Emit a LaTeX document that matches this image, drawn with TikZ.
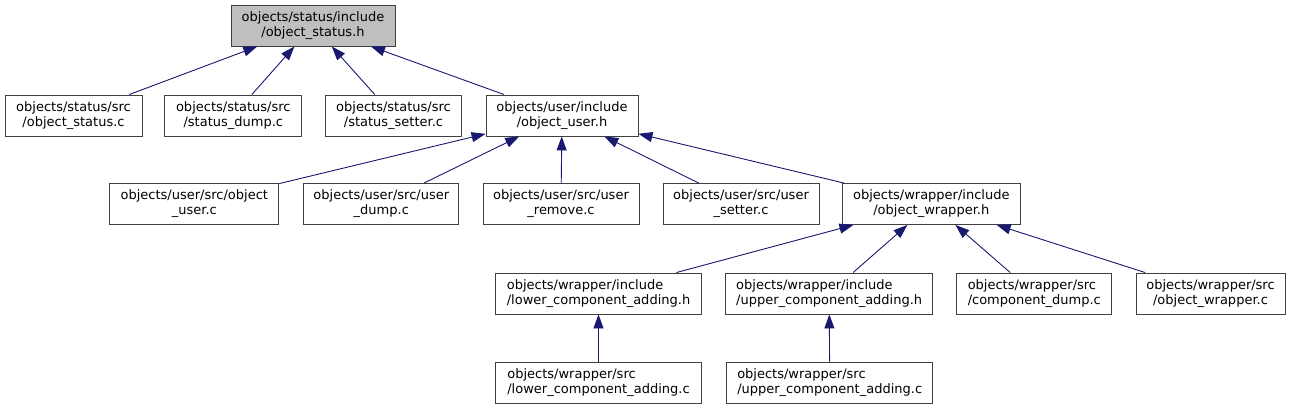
\documentclass[tikz,border=0pt]{standalone}
\usepackage{fontspec}
\setmainfont{DejaVu Sans}
\usepackage{xcolor}
\usetikzlibrary{arrows.meta}
\definecolor{edgeblue}{HTML}{191970}
\definecolor{boxgray}{HTML}{BFBFBF}
\definecolor{borderdark}{HTML}{404040}

\begin{document}
\begin{tikzpicture}[x=1pt,y=-1pt,>={Triangle[length=14pt,width=10pt]},
  file/.style={draw=borderdark,line width=0.9pt,fill=white,minimum height=41pt,inner sep=0pt,
    align=center,font=\fontsize{13}{15}\selectfont},
  lfile/.style={file,align=left},
  dep/.style={edgeblue,line width=0.9pt,<-}]
\useasboundingbox (0,0) rectangle (1291,409);
\node[file,fill=boxgray,minimum width=164pt] (top) at (313,25.5) {objects/status/include\\/object\_status.h};
\node[file,minimum width=137pt] (osc) at (73.5,115.5) {objects/status/src\\/object\_status.c};
\node[file,minimum width=137pt] (sdc) at (233.3,115.5) {objects/status/src\\/status\_dump.c};
\node[file,minimum width=136pt] (ssc) at (393.5,115.5) {objects/status/src\\/status\_setter.c};
\node[file,minimum width=152pt] (ouh) at (562,115.5) {objects/user/include\\/object\_user.h};
\node[file,minimum width=169pt] (ouc) at (194.3,204) {objects/user/src/object\\\_user.c};
\node[file,minimum width=155pt] (udc) at (381.3,204) {objects/user/src/user\\\_dump.c};
\node[file,minimum width=156pt] (urc) at (561,204) {objects/user/src/user\\\_remove.c};
\node[file,minimum width=156pt] (usc) at (741,204) {objects/user/src/user\\\_setter.c};
\node[file,minimum width=178pt] (owh) at (931.3,204) {objects/wrapper/include\\/object\_wrapper.h};
\node[lfile,minimum width=206pt] (lch) at (598.5,293.5) {objects/wrapper/include\\/lower\_component\_adding.h};
\node[lfile,minimum width=207pt] (uch) at (829.2,293.5) {objects/wrapper/include\\/upper\_component\_adding.h};
\node[lfile,minimum width=155pt] (cdc) at (1034.3,293.5) {objects/wrapper/src\\/component\_dump.c};
\node[file,minimum width=149pt] (owc) at (1210.5,293.5) {objects/wrapper/src\\/object\_wrapper.c};
\node[lfile,minimum width=206pt] (lcc) at (598.5,382.5) {objects/wrapper/src\\/lower\_component\_adding.c};
\node[lfile,minimum width=206pt] (ucc) at (829.7,382.5) {objects/wrapper/src\\/upper\_component\_adding.c};
\foreach \a/\b in {top/osc,top/sdc,top/ssc,top/ouh,ouh/ouc,ouh/udc,ouh/urc,ouh/usc,ouh/owh,
  owh/lch,owh/uch,owh/cdc,owh/owc,lch/lcc,uch/ucc}
  \draw[dep] (\a) -- (\b);
\end{tikzpicture}
\end{document}
